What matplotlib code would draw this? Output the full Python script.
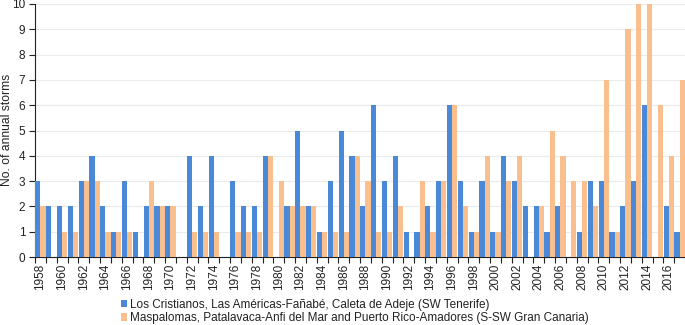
import matplotlib
matplotlib.use("Agg")
import matplotlib.pyplot as plt
import numpy as np

years = list(range(1958, 2018))
tenerife = [3, 2, 2, 2, 3, 4, 2, 1, 3, 1, 2, 2, 2, 0, 4, 2, 4, 0, 3, 2,
            2, 4, 0, 2, 5, 2, 1, 3, 5, 4, 2, 6, 3, 4, 1, 1, 2, 3, 6, 3,
            1, 3, 1, 4, 3, 2, 2, 1, 2, 0, 1, 3, 3, 1, 2, 3, 6, 0, 2, 1]
gran_canaria = [2, 0, 1, 1, 3, 3, 1, 1, 1, 0, 3, 2, 2, 0, 1, 1, 1, 0, 1, 1,
                1, 4, 3, 2, 2, 2, 1, 1, 1, 4, 3, 1, 1, 2, 0, 3, 1, 3, 6, 2,
                1, 4, 1, 3, 4, 0, 2, 5, 4, 3, 3, 2, 7, 1, 9, 10, 10, 6, 4, 7]
label_tf = "Los Cristianos, Las Américas-Fañabé, Caleta de Adeje (SW Tenerife)"
label_gc = "Maspalomas, Patalavaca-Anfi del Mar and Puerto Rico-Amadores (S-SW Gran Canaria)"

plt.rcParams['font.family'] = ['Liberation Sans', 'DejaVu Sans']

W, H = 685, 325
fig = plt.figure(figsize=(W/100, H/100), dpi=100)
ax = fig.add_axes([35/W, 1 - 257/H, 650/W, 253/H])

x = np.arange(len(years))
w = 0.47
c_blue = "#4A88D8"
c_orange = "#F9BF8F"
ax.bar(x - w/2, tenerife, width=w, color=c_blue, label=label_tf, zorder=3)
ax.bar(x + w/2, gran_canaria, width=w, color=c_orange, label=label_gc, zorder=3)

ax.set_xlim(-0.5, len(years) - 0.5)
ax.set_ylim(0, 10)
ax.set_yticks(range(0, 11))
ax.tick_params(axis='y', labelsize=8.5, length=4, width=0.8, pad=3, colors='#222222')
ax.yaxis.grid(True, color='#EBEBEB', linewidth=0.8, zorder=0)
ax.set_axisbelow(True)

ax.set_xticks(x[::2])
ax.set_xticklabels([str(y) for y in years[::2]], rotation=90, fontsize=8.5, color='#222222')
ax.tick_params(axis='x', which='major', length=0, pad=5)
ax.set_xticks(np.arange(-0.5, len(years), 1), minor=True)
ax.tick_params(axis='x', which='minor', length=4, width=0.8, direction='out', color='#222222')

for s in ['top', 'right']:
    ax.spines[s].set_visible(False)
for s in ['left', 'bottom']:
    ax.spines[s].set_color('#222222')
    ax.spines[s].set_linewidth(0.8)

fig.text(7/W, 1 - 130/H, "No. of annual storms", rotation=90, fontsize=8.7,
         ha='center', va='center', color='#222222')

fig.legend(loc='upper left', bbox_to_anchor=(121/W, 1 - 299/H), frameon=False,
           fontsize=8.5, handlelength=0.55, handleheight=0.55, handletextpad=0.2,
           labelspacing=0.1, borderpad=0, borderaxespad=0, labelcolor='#222222')

fig.savefig("out.png", dpi=100)
